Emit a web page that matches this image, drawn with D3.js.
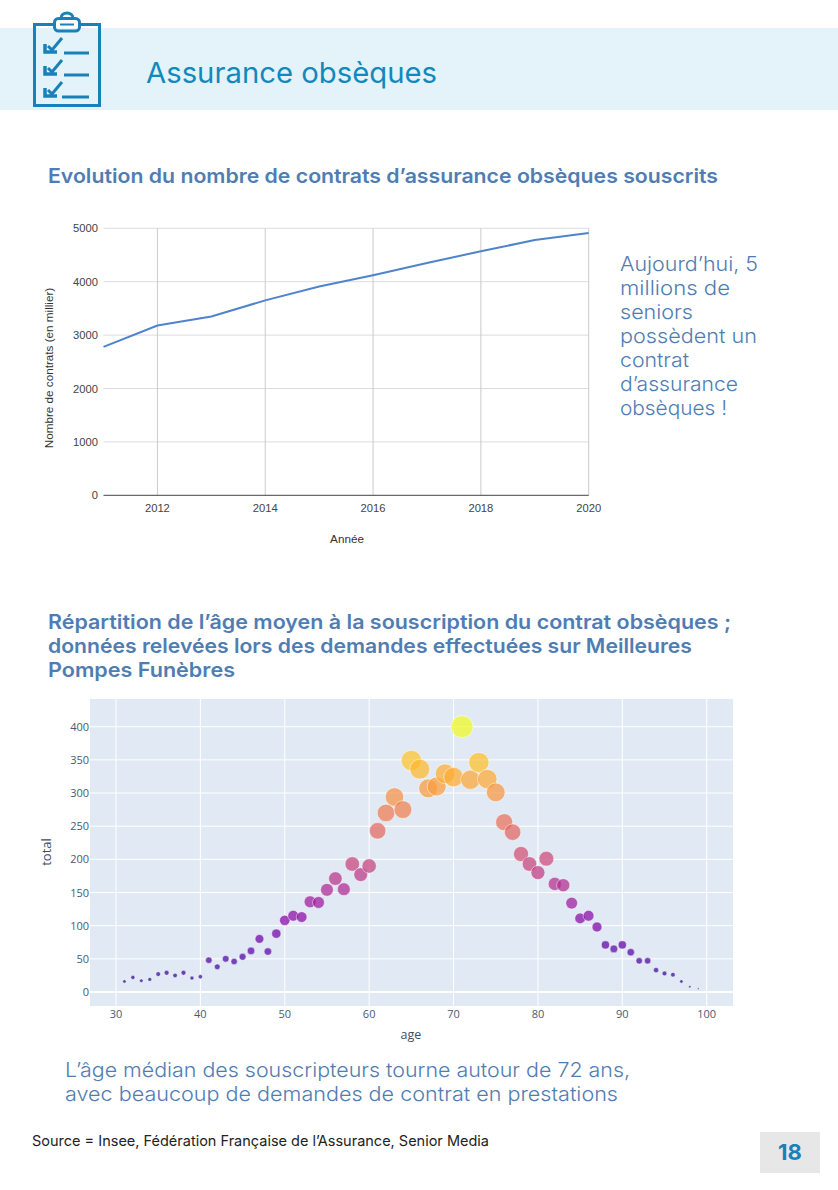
<!DOCTYPE html>
<html>
<head>
<meta charset="utf-8">
<script src="https://d3js.org/d3.v7.min.js"></script>
<style>
  html, body { margin: 0; padding: 0; background: #fff; }
  svg { display: block; }
  text { font-family: Inter, "Open Sans", sans-serif; }
  .g1 text { font-family: "Liberation Sans", Arial, sans-serif; }
  .g2 text { font-family: "Open Sans", sans-serif; }
</style>
</head>
<body>
<div id="page"></div>
<script>
// line chart data
var years = [2011, 2012, 2013, 2014, 2015, 2016, 2017, 2018, 2019, 2020];
var contrats = [2780, 3180, 3350, 3650, 3910, 4120, 4350, 4570, 4780, 4910];
var yearTicks = [2012, 2014, 2016, 2018, 2020];
var contratTicks = [0, 1000, 2000, 3000, 4000, 5000];

// bubble chart data
var ages = [31, 32, 33, 34, 35, 36, 37, 38, 39, 40,
	41, 42, 43, 44, 45, 46, 47, 48, 49, 50,
	51, 52, 53, 54, 55, 56, 57, 58, 59, 60,
	61, 62, 63, 64, 65, 66, 67, 68, 69, 70,
	71, 72, 73, 74, 75, 76, 77, 78, 79, 80,
	81, 82, 83, 84, 85, 86, 87, 88, 89, 90,
	91, 92, 93, 94, 95, 96, 97, 98, 99];
var totals = [16, 22, 17, 19, 27, 29, 25, 29, 21, 23,
	48, 38, 50, 46, 53, 62, 80, 61, 88, 108,
	115, 113, 136, 135, 154, 171, 155, 193, 177, 190,
	243, 270, 294, 275, 349, 336, 307, 310, 329, 324,
	400, 320, 346, 321, 301, 256, 241, 208, 193, 180,
	201, 163, 161, 134, 111, 115, 98, 71, 65, 71,
	60, 47, 47, 33, 28, 26, 16, 8, 5];
var ageTicks = [30, 40, 50, 60, 70, 80, 90, 100];
var totalTicks = [0, 50, 100, 150, 200, 250, 300, 350, 400];

// page texts
var sideText = ["Aujourd\u2019hui, 5", "millions de", "seniors", "poss\u00e8dent un", "contrat", "d\u2019assurance", "obs\u00e8ques !"];
var title2 = ["R\u00e9partition de l\u2019\u00e2ge moyen \u00e0 la souscription du contrat obs\u00e8ques ;",
	"donn\u00e9es relev\u00e9es lors des demandes effectu\u00e9es sur Meilleures",
	"Pompes Fun\u00e8bres"];
var title2Widths = [683, 644, 187];
var sideWidths = [138, 110, 73, 137, 69, 118, 107];
var comment = ["L\u2019\u00e2ge m\u00e9dian des souscripteurs tourne autour de 72 ans,",
	"avec beaucoup de demandes de contrat en prestations"];
var commentWidths = [565, 553];

var svg = d3.select("#page").append("svg")
	.attr("width", 838)
	.attr("height", 1190);

// header
svg.append("rect").attr("x", 0).attr("y", 28).attr("width", 838).attr("height", 82).attr("fill", "#e3f3f9");

function put(txt, x, y, size, weight, color, len) {
	var t = svg.append("text")
		.attr("x", x).attr("y", y)
		.attr("font-size", size)
		.attr("font-weight", weight)
		.attr("fill", color)
		.text(txt);
	if (len) t.attr("textLength", len).attr("lengthAdjust", "spacingAndGlyphs");
	return t;
}

put("Assurance obs\u00e8ques", 146, 83, 29, 400, "#1189bd", 291);

// clipboard icon
var icon = svg.append("g").attr("fill", "none").attr("stroke", "#1a80b9").attr("stroke-width", 3);
icon.append("path").attr("d", "M54 24.5H34.5V105.5H99.5V24.5H80");
icon.append("rect").attr("x", 54.5).attr("y", 18.5).attr("width", 25).attr("height", 12.5).attr("rx", 4);
icon.append("path").attr("d", "M61 18 A6 5 0 0 1 73 18");
icon.append("path").attr("d", "M60 24.5H74").attr("stroke-width", 2);
[38, 60, 82].forEach(function(y, i) {
	icon.append("path").attr("d", "M45 " + (y + 6) + "V" + (y + 14) + "H57").attr("stroke-width", 3.5);
	icon.append("path").attr("d", "M48 " + (y + 8) + "L52 " + (y + 12) + "L62 " + y).attr("stroke-width", 3);
	icon.append("path").attr("d", "M" + (i == 2 ? 62 : 64) + " " + (y + 15) + "H89");
});

put("Evolution du nombre de contrats d\u2019assurance obs\u00e8ques souscrits", 48, 183, 20, 600, "#4f7db3", 670);

// line chart
var x1 = d3.scaleLinear().domain([2011, 2020]).range([103.5, 588.7]);
var y1 = d3.scaleLinear().domain([0, 5000]).range([495.3, 228.3]);
var g1 = svg.append("g").attr("class", "g1");

g1.append("g").selectAll("line").data(contratTicks.slice(1)).enter().append("line")
	.attr("x1", x1.range()[0]).attr("x2", x1.range()[1])
	.attr("y1", function(d) { return y1(d); }).attr("y2", function(d) { return y1(d); })
	.attr("stroke", "#dcdcdc").attr("stroke-width", 1);
g1.append("g").selectAll("line").data(yearTicks).enter().append("line")
	.attr("x1", function(d) { return x1(d); }).attr("x2", function(d) { return x1(d); })
	.attr("y1", y1(0)).attr("y2", y1(5000))
	.attr("stroke", "#cbcbcb").attr("stroke-width", 1);

g1.append("line").attr("x1", x1.range()[0]).attr("x2", x1.range()[1])
	.attr("y1", y1(0)).attr("y2", y1(0)).attr("stroke", "#444").attr("stroke-width", 1);

g1.append("path").datum(years)
	.attr("fill", "none").attr("stroke", "#4f83cc").attr("stroke-width", 2)
	.attr("d", d3.line()
		.x(function(d) { return x1(d); })
		.y(function(d, i) { return y1(contrats[i]); }));

g1.append("g").selectAll("text").data(contratTicks).enter().append("text")
	.attr("x", 98).attr("y", function(d) { return y1(d) + 4; })
	.attr("text-anchor", "end").attr("font-size", 11.2).attr("fill", "#444")
	.text(function(d) { return d; });
g1.append("g").selectAll("text").data(yearTicks).enter().append("text")
	.attr("x", function(d) { return x1(d); }).attr("y", 512)
	.attr("text-anchor", "middle").attr("font-size", 11.2).attr("fill", "#444")
	.text(function(d) { return d; });
g1.append("text").attr("x", 347).attr("y", 543).attr("text-anchor", "middle")
	.attr("font-size", 11.7).attr("fill", "#333").text("Ann\u00e9e");
g1.append("text").attr("transform", "translate(53,368) rotate(-90)").attr("text-anchor", "middle")
	.attr("font-size", 11.7).attr("fill", "#333").text("Nombre de contrats (en millier)");

// side comment
sideText.forEach(function(s, i) {
	put(s, 620, 271 + i * 24, 20, 300, "#4f7db3", sideWidths[i]);
});

title2.forEach(function(s, i) {
	put(s, 48, 629 + i * 24, 20, 600, "#4f7db3", title2Widths[i]);
});

// bubble chart
var x2 = d3.scaleLinear().domain([30, 100]).range([116, 706.7]);
var y2 = d3.scaleLinear().domain([0, 400]).range([992, 726.7]);
var size = d3.scalePow().exponent(0.57).domain([0, 400]).range([0, 11]);
var color = d3.scaleSequential(d3.interpolatePlasma).domain([0, 400]);
var g2 = svg.append("g").attr("class", "g2");

g2.append("rect").attr("x", 90).attr("y", 699).attr("width", 643).attr("height", 307).attr("fill", "#e1eaf4");
g2.append("g").selectAll("line").data(totalTicks).enter().append("line")
	.attr("x1", 90).attr("x2", 733)
	.attr("y1", function(d) { return y2(d); }).attr("y2", function(d) { return y2(d); })
	.attr("stroke", "#fff").attr("stroke-width", function(d) { return d == 0 ? 2 : 1; });
g2.append("g").selectAll("line").data(ageTicks).enter().append("line")
	.attr("x1", function(d) { return x2(d); }).attr("x2", function(d) { return x2(d); })
	.attr("y1", 699).attr("y2", 1006)
	.attr("stroke", "#fff").attr("stroke-width", 1);

g2.append("g").selectAll("circle").data(ages).enter().append("circle")
	.attr("cx", function(d) { return x2(d); })
	.attr("cy", function(d, i) { return y2(totals[i]); })
	.attr("r", function(d, i) { return size(totals[i]); })
	.attr("fill", function(d, i) { return color(totals[i]); })
	.attr("fill-opacity", 0.72)
	.attr("stroke", "#fff").attr("stroke-opacity", 0.7).attr("stroke-width", 0.7);

g2.append("g").selectAll("text").data(totalTicks).enter().append("text")
	.attr("x", 89).attr("y", function(d) { return y2(d) + 4; })
	.attr("text-anchor", "end").attr("font-size", 11).attr("fill", "#4a5a72")
	.text(function(d) { return d; });
g2.append("g").selectAll("text").data(ageTicks).enter().append("text")
	.attr("x", function(d) { return x2(d); }).attr("y", 1018)
	.attr("text-anchor", "middle").attr("font-size", 11).attr("fill", "#4a5a72")
	.text(function(d) { return d; });
g2.append("text").attr("x", 411).attr("y", 1039).attr("text-anchor", "middle")
	.attr("font-size", 12.5).attr("fill", "#3f4d63").text("age");
g2.append("text").attr("transform", "translate(51,852) rotate(-90)").attr("text-anchor", "middle")
	.attr("font-size", 13).attr("fill", "#3f4d63").text("total");

comment.forEach(function(s, i) {
	put(s, 65, 1077 + i * 24, 20, 300, "#4f7db3", commentWidths[i]);
});

put("Source = Insee, F\u00e9d\u00e9ration Fran\u00e7aise de l\u2019Assurance, Senior Media", 32, 1146, 14.5, 400, "#222", 457);

// page number
svg.append("rect").attr("x", 760).attr("y", 1132).attr("width", 60).attr("height", 41).attr("fill", "#e7e7e7");
put("18", 790, 1160, 22, 700, "#1a80b9").attr("text-anchor", "middle");
</script>
</body>
</html>
